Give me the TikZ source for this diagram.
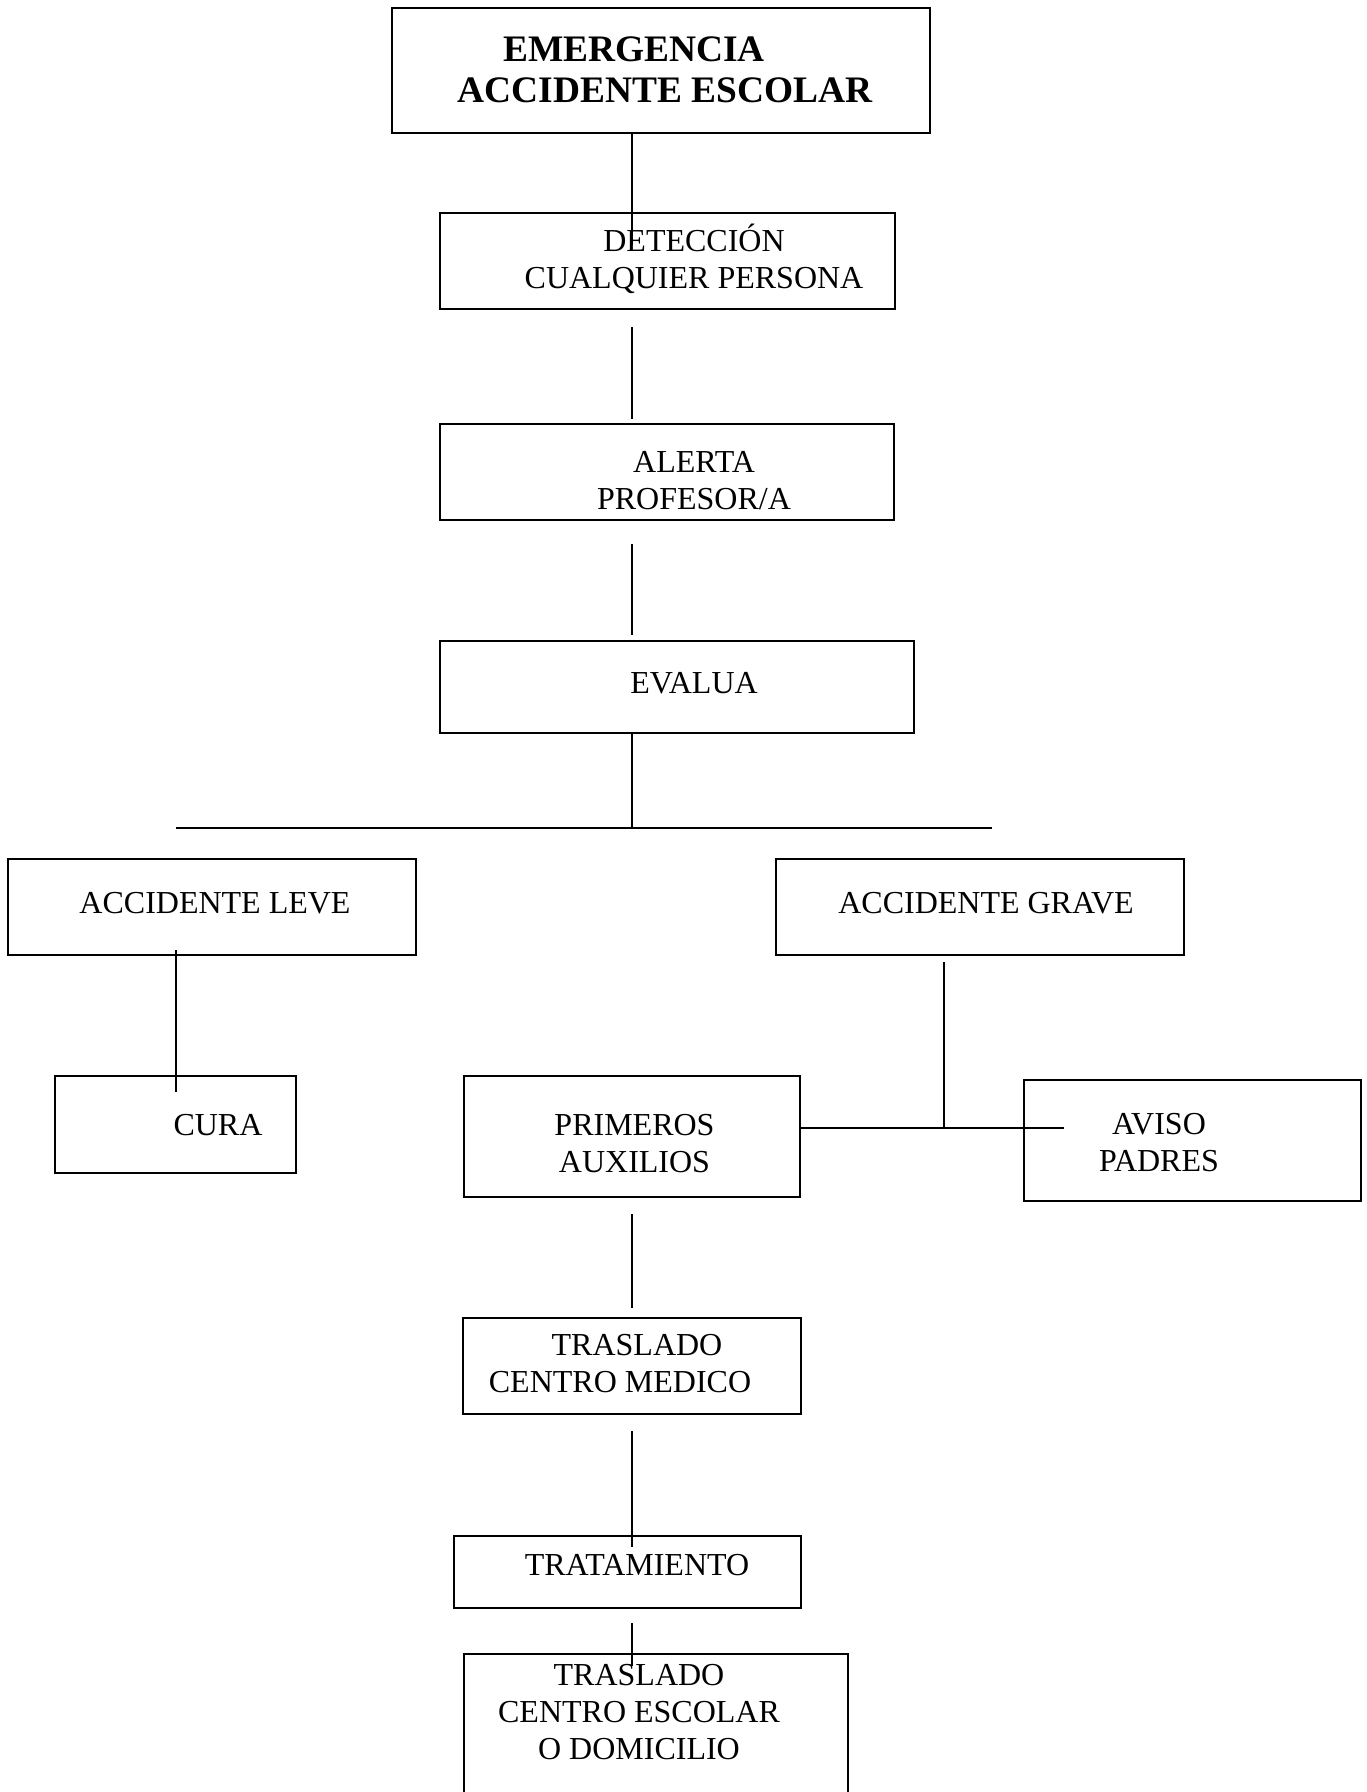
\documentclass[tikz,border=0pt]{standalone}
\usepackage{fontspec}
\setmainfont{Liberation Serif}
\usetikzlibrary{calc}

\begin{document}
\begin{tikzpicture}[x=0.5pt,y=-0.5pt,
   box/.style={draw, line width=1.3pt, inner sep=0pt},
   txt/.style={align=center, inner sep=0pt, font=\fontsize{16}{18.5}\selectfont}]
\useasboundingbox (0,0) rectangle (1366,1792);
\clip (0,0) rectangle (1366,1792);
\node[box, minimum width=269pt, minimum height=62.5pt] (top) at (661,70.5) {};
\node[box, minimum width=227.5pt, minimum height=48pt] (det) at (667.5,261) {};
\node[box, minimum width=227pt, minimum height=48pt] (alerta) at (667,472) {};
\node[box, minimum width=237pt, minimum height=46pt] (evalua) at (677,687) {};
\node[box, minimum width=204pt, minimum height=48pt] (leve) at (212,907) {};
\node[box, minimum width=204pt, minimum height=48pt] (grave) at (980,907) {};
\node[box, minimum width=120.5pt, minimum height=48.5pt] (cura) at (175.5,1124.5) {};
\node[box, minimum width=168pt, minimum height=60.5pt] (prim) at (632,1136.5) {};
\node[box, minimum width=168.5pt, minimum height=60.5pt] (aviso) at (1192.5,1140.5) {};
\node[box, minimum width=169pt, minimum height=48pt] (medico) at (632,1366) {};
\node[box, minimum width=173.5pt, minimum height=36pt] (trat) at (627.5,1572) {};
\node[box, minimum width=192pt, minimum height=100pt] (escolar) at (656,1754) {};

\node[txt, font=\fontsize{18.7}{20.5}\selectfont\bfseries] (topT) at (665,69.5)
   {EMERGENCIA\hspace*{31pt}\\ACCIDENTE ESCOLAR};
\node[txt] (detT) at (694,259) {DETECCIÓN\\CUALQUIER PERSONA};
\node[txt] (alertaT) at (694,481) {ALERTA\\PROFESOR/A};
\node[txt] (evaluaT) at (694,683) {EVALUA};
\node[txt] (leveT) at (215,903) {ACCIDENTE LEVE};
\node[txt] (graveT) at (986,903) {ACCIDENTE GRAVE};
\node[txt] (curaT) at (218,1125) {CURA};
\node[txt] (primT) at (634.5,1143.5) {PRIMEROS\\AUXILIOS};
\node[txt] (avisoT) at (1159,1143) {AVISO\\PADRES};
\node[txt] (medicoT) at (620,1363.5) {\hspace*{17pt}TRASLADO\\CENTRO MEDICO};
\node[txt] (tratT) at (637,1565) {TRATAMIENTO};
\node[txt] (escolarT) at (639,1712.5) {TRASLADO\\CENTRO ESCOLAR\\O DOMICILIO};

\coordinate (spine) at (632,0);
\coordinate (split) at (632,828);
\coordinate (splitL) at (176,828);
\coordinate (splitR) at (992,828);
\coordinate (junc) at (944,1128);
\coordinate (juncR) at (1064,1128);

\draw[line width=1.3pt] (spine |- top.south) -- ($(spine |- det.north)+(0,33)$);
\draw[line width=1.3pt] ($(spine |- det.south)+(0,17)$) -- ($(spine |- alerta.north)+(0,-4)$);
\draw[line width=1.3pt] ($(spine |- alerta.south)+(0,23)$) -- ($(spine |- evalua.north)+(0,-5)$);
\draw[line width=1.3pt] (spine |- evalua.south) -- (split);
\draw[line width=1.3pt] (splitL) -- (splitR);
\draw[line width=1.3pt] ($(splitL |- leve.south)+(0,-6)$) -- ($(splitL |- cura.north)+(0,17)$);
\draw[line width=1.3pt] ($(junc |- grave.south)+(0,6)$) -- (junc);
\draw[line width=1.3pt] (prim.east |- junc) -- (juncR);
\draw[line width=1.3pt] ($(spine |- prim.south)+(0,16)$) -- ($(spine |- medico.north)+(0,-9)$);
\draw[line width=1.3pt] ($(spine |- medico.south)+(0,16)$) -- ($(spine |- trat.north)+(0,12)$);
\draw[line width=1.3pt] ($(spine |- trat.south)+(0,14)$) -- ($(spine |- escolar.north)+(0,13)$);
\end{tikzpicture}
\end{document}
